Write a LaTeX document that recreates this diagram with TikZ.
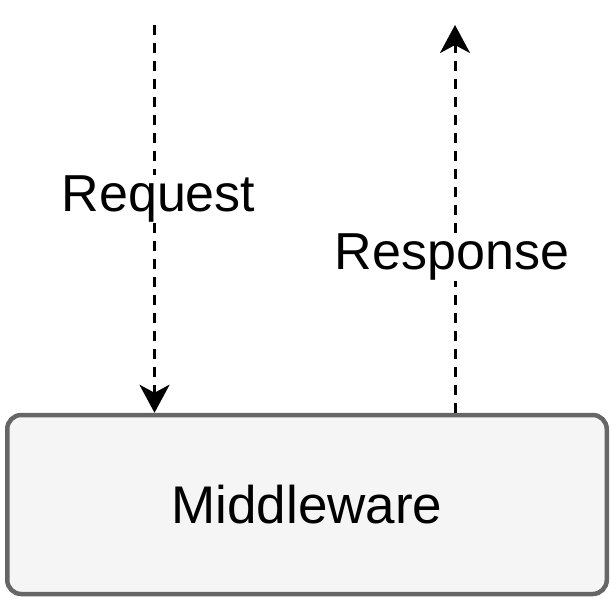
\documentclass[tikz,border=0pt]{standalone}
\usepackage{fontspec}
\setmainfont{Liberation Sans}
\usetikzlibrary{arrows.meta}
\definecolor{vora}{HTML}{666666}
\definecolor{fons}{HTML}{F5F5F5}

\begin{document}
\begin{tikzpicture}[x=1pt, y=-1pt,
    fletxa/.style={line width=3pt, dash pattern=on 10pt off 8pt, -{Stealth[length=28pt, width=30pt, inset=8pt]}},
    etiqueta/.style={fill=white, inner sep=1pt, font=\fontsize{52}{60}\selectfont}]
    \useasboundingbox (0,0) rectangle (612,603);

    % CAIXA DEL MIDDLEWARE
    \node[draw=vora, fill=fons, line width=4.5pt, rounded corners=14pt, minimum width=599.5pt, minimum height=179pt, inner sep=0pt, font=\fontsize{53}{60}\selectfont] (mw) at (307,504.5) {Middleware};

    % EXTREMS LLIURES DE LES FLETXES
    \coordinate (reqtop) at (154.5,25);
    \coordinate (resptop) at (455,25);

    % FLETXES DISCONTINUES
    \draw[fletxa] (reqtop) -- (reqtop |- mw.north);
    \draw[fletxa] (resptop |- mw.north) -- (resptop);

    % ETIQUETES (fons blanc sobre la línia)
    \node[etiqueta] (req) at (158.5,199) {Request};
    \node[etiqueta] (resp) at (452,257) {Response};
\end{tikzpicture}
\end{document}
